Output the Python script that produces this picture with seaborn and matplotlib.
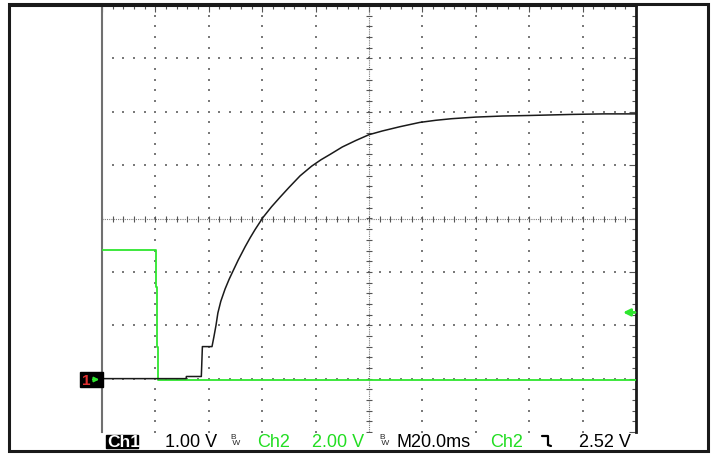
import matplotlib
matplotlib.use("Agg")
import matplotlib.pyplot as plt
import matplotlib.patches as mpatches
import matplotlib.lines as mlines
import numpy as np
import pandas as pd
import seaborn as sns

# scope settings
CH1_VOLTS_PER_DIV = 1.0
CH2_VOLTS_PER_DIV = 2.0
TIME_PER_DIV_MS = 20.0
CH1_GROUND_DIV = -3.0
CH2_GROUND_DIV = -3.02
TRIGGER_LEVEL_V = 2.52

# Ch1 trace (black), time in ms from left edge, volts
ch1_time = [0, 31.5, 31.6, 37.2, 37.6, 41.2, 41.9, 42.7, 43.4, 44.5, 46.1,
            47.6, 49.1, 51.0, 53.6, 55.5, 57.3, 60.3, 63.5, 66.7, 70.0, 74.2,
            78.5, 82.0, 85.4, 90.0, 95.0, 100.0, 105.0, 111.6, 119.0, 125.0,
            131.0, 140.0, 150.0, 160.0, 176.0, 188.0, 200.0]
ch1_volts = [0.0, 0.0, 0.04, 0.04, 0.6, 0.6, 0.78, 1.0, 1.23, 1.45, 1.68,
             1.86, 2.02, 2.22, 2.47, 2.64, 2.79, 3.02, 3.22, 3.40, 3.58, 3.80,
             3.98, 4.10, 4.20, 4.34, 4.46, 4.57, 4.64, 4.72, 4.80, 4.84,
             4.87, 4.90, 4.92, 4.93, 4.95, 4.96, 4.96]

# Ch2 trace (green)
ch2_time = [0, 20.2, 20.2, 20.7, 20.7, 21.1, 21.1, 200.0]
ch2_volts = [4.87, 4.87, 3.48, 3.48, 1.22, 1.22, 0.0, 0.0]

# status bar
status_items = [
    ("1.00 V", 165, "black"),
    ("Ch2", 257, "#22dd22"),
    ("2.00 V", 312, "#22dd22"),
    ("M20.0ms", 396, "black"),
    ("Ch2", 490, "#22dd22"),
    ("2.52 V", 579, "black"),
]

W, H = 712, 454
GREEN = "#2ee62e"
GRID = "#7a7a7a"


def fx(px):
    return px / W


def fy(py):
    return 1 - py / H


sns.set_style("white")
plt.rcParams["font.family"] = ["Liberation Sans", "DejaVu Sans"]

fig = plt.figure(figsize=(W / 100, H / 100), dpi=100)
ax = fig.add_axes([fx(102), fy(432), 534 / W, 427 / H])

df1 = pd.DataFrame({
    "t": ch1_time,
    "div": np.array(ch1_volts) / CH1_VOLTS_PER_DIV + CH1_GROUND_DIV,
})
df2 = pd.DataFrame({
    "t": ch2_time,
    "div": np.array(ch2_volts) / CH2_VOLTS_PER_DIV + CH2_GROUND_DIV,
})

ax.set_xlim(0, 10 * TIME_PER_DIV_MS)
ax.set_ylim(-4, 4)

# dotted graticule
minor_x = np.arange(0, 200.01, TIME_PER_DIV_MS / 5)
minor_y = np.arange(-4, 4.01, 0.2)
for gx in np.arange(20, 200, 20):
    if gx == 100:
        continue
    ax.scatter(np.full(len(minor_y), gx), minor_y, s=1.5, marker="s",
               color=GRID, linewidths=0, zorder=1)
for gy in np.arange(-3, 4, 1):
    if gy == 0:
        continue
    ax.scatter(minor_x, np.full(len(minor_x), gy), s=1.5, marker="s",
               color=GRID, linewidths=0, zorder=1)

# centre cross with ticks
ax.axhline(0, color=GRID, lw=0.8, ls=(0, (1, 1)), zorder=1)
ax.axvline(100, color=GRID, lw=0.8, ls=(0, (1, 1)), zorder=1)
ax.plot(minor_x, np.zeros(len(minor_x)), ls="none", marker="|", ms=5,
        mew=0.8, color="#555555", zorder=1)
ax.plot(np.full(len(minor_y), 100), minor_y, ls="none", marker="_", ms=5,
        mew=0.8, color="#555555", zorder=1)

# border ticks
ax.set_xticks(np.arange(0, 201, 20))
ax.set_xticks(minor_x, minor=True)
ax.set_yticks(np.arange(-4, 5, 1))
ax.set_yticks(minor_y, minor=True)
ax.tick_params(which="both", direction="in", top=True, right=True,
               labelbottom=False, labelleft=False, color="#555555")
ax.tick_params(which="major", length=5, width=0.8)
ax.tick_params(which="minor", length=3, width=0.8)

sns.lineplot(data=df2, x="t", y="div", sort=False, estimator=None,
             color=GREEN, lw=1.3, ax=ax, zorder=3)
sns.lineplot(data=df1, x="t", y="div", sort=False, estimator=None,
             color="#1a1a1a", lw=1.1, ax=ax, zorder=4)
ax.set_xlabel("")
ax.set_ylabel("")

for side in ["top", "bottom"]:
    ax.spines[side].set_visible(False)
ax.spines["left"].set_color("#707070")
ax.spines["left"].set_linewidth(1.5)
ax.spines["right"].set_color("#1a1a1a")
ax.spines["right"].set_linewidth(2)

# trigger level marker (drawn in figure pixels next to the right edge)
trig_div = TRIGGER_LEVEL_V / CH2_VOLTS_PER_DIV + CH2_GROUND_DIV
trig_py = 218.5 - trig_div * 427 / 8
fig.add_artist(mpatches.FancyArrowPatch((fx(635), fy(trig_py)),
                                        (fx(623), fy(trig_py)),
                                        arrowstyle="-|>", mutation_scale=10,
                                        color=GREEN, lw=2.0,
                                        shrinkA=0, shrinkB=0,
                                        transform=fig.transFigure))

# outer frame and top edge
fig.add_artist(mpatches.Rectangle((fx(9), fy(451)), fx(708) - fx(9),
                                  fy(4) - fy(451), fill=False,
                                  edgecolor="#1a1a1a", lw=2.2,
                                  transform=fig.transFigure))
fig.add_artist(mlines.Line2D([fx(9), fx(636)], [fy(5), fy(5)],
                             color="#1a1a1a", lw=2.2,
                             transform=fig.transFigure))

# channel 1 ground marker
fig.add_artist(mpatches.Rectangle((fx(80), fy(387)), fx(23), 15 / H,
                                  color="black", transform=fig.transFigure))
fig.text(fx(82), fy(385), "1", color="#e03030", fontsize=11,
         fontweight="bold", va="baseline")
fig.add_artist(mpatches.FancyArrowPatch((fx(90), fy(379.5)),
                                        (fx(102), fy(379.5)),
                                        arrowstyle="-|>", mutation_scale=7,
                                        color=GREEN, lw=1.3,
                                        transform=fig.transFigure))

# status bar
fig.add_artist(mpatches.Rectangle((fx(106), fy(448)), fx(32), 13.5 / H,
                                  color="black", transform=fig.transFigure))
fig.text(fx(107), fy(447), "Ch1", color="white", fontsize=12.5,
         fontweight="bold", va="baseline")
for label, px, col in status_items:
    fig.text(fx(px), fy(447), label, color=col, fontsize=13, va="baseline")
for px in (230, 379):
    fig.text(fx(px), fy(445), "B\n W", fontsize=6, va="baseline",
             linespacing=0.85)
# falling edge symbol
fig.add_artist(mlines.Line2D([fx(542), fx(548), fx(548), fx(551)],
                             [fy(436), fy(436), fy(445), fy(446)],
                             color="black", lw=1.6,
                             transform=fig.transFigure))

fig.savefig("out.png", dpi=100)
